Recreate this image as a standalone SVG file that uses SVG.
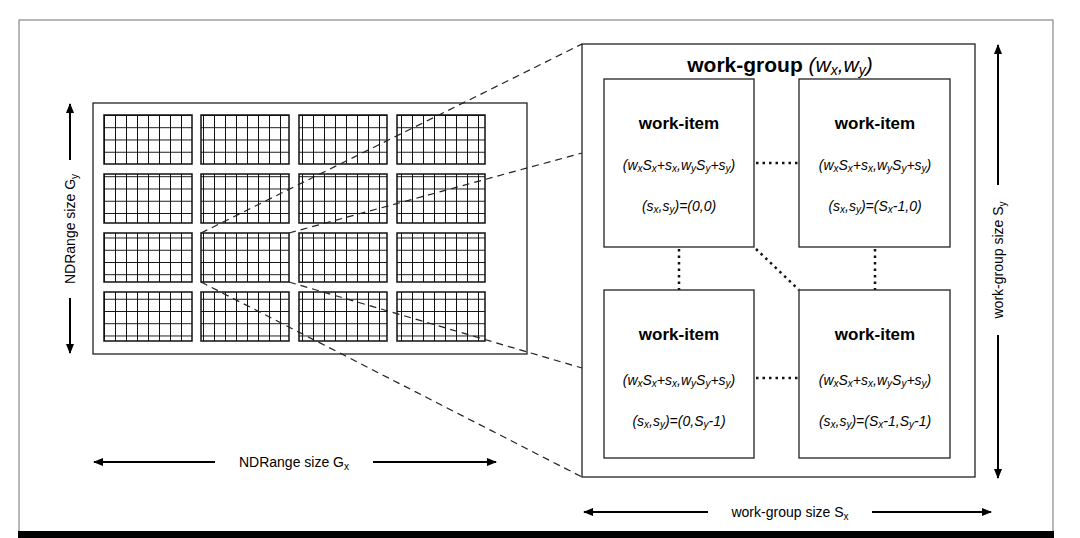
<svg xmlns="http://www.w3.org/2000/svg" width="1080" height="538" viewBox="0 0 1080 538">
<defs>
<marker id="ah" viewBox="0 0 10 10" refX="9" refY="5" markerWidth="12" markerHeight="10" markerUnits="userSpaceOnUse" orient="auto-start-reverse"><path d="M0,1 L10,5 L0,9 z" fill="#000"/></marker>
<pattern id="cells" x="104" y="115" width="11" height="12.25" patternUnits="userSpaceOnUse"><path d="M0,0 H11 M0,0 V12.25" stroke="#111" stroke-width="2" fill="none"/></pattern>
</defs>
<style>
text{font-family:"Liberation Sans",Arial,sans-serif;fill:#000}
.b{font-weight:bold;font-size:17px}
.f{font-style:italic;font-size:14px}
.box{fill:#fff;stroke:#222;stroke-width:1.3}
.blk{fill:url(#cells);stroke:#111;stroke-width:1.5}
.dash{stroke:#222;stroke-width:1.2;stroke-dasharray:7,5;fill:none}
.dot{stroke:#111;stroke-width:2.5;stroke-dasharray:2.5,4;fill:none}
.arr{stroke:#000;stroke-width:2;marker-start:url(#ah);marker-end:url(#ah)}
.lbl{font-size:14px}
</style>
<rect width="1080" height="538" fill="#fff"/>
<rect x="19" y="20" width="1034" height="515" fill="#fff" stroke="#888" stroke-width="1.2"/>
<rect x="18" y="531" width="1036" height="7" fill="#000"/>
<g id="ndrange">
<rect class="box" x="93" y="103" width="434" height="251"/>
<g id="blocks">
<rect class="blk" x="104" y="115" width="88" height="49"/><rect class="blk" x="201" y="115" width="88" height="49"/><rect class="blk" x="299" y="115" width="88" height="49"/><rect class="blk" x="397" y="115" width="88" height="49"/>
<rect class="blk" x="104" y="174" width="88" height="49"/><rect class="blk" x="201" y="174" width="88" height="49"/><rect class="blk" x="299" y="174" width="88" height="49"/><rect class="blk" x="397" y="174" width="88" height="49"/>
<rect class="blk" x="104" y="233" width="88" height="49"/><rect class="blk" x="201" y="233" width="88" height="49"/><rect class="blk" x="299" y="233" width="88" height="49"/><rect class="blk" x="397" y="233" width="88" height="49"/>
<rect class="blk" x="104" y="292" width="88" height="49"/><rect class="blk" x="201" y="292" width="88" height="49"/><rect class="blk" x="299" y="292" width="88" height="49"/><rect class="blk" x="397" y="292" width="88" height="49"/>
</g>
</g>
<g id="workgroup">
<rect class="box" x="582" y="44" width="393" height="433"/>
<text x="780" y="72" text-anchor="middle" font-size="21"><tspan font-weight="bold">work-group</tspan> <tspan font-style="italic">(w<tspan font-size="14" dy="3">x</tspan><tspan dy="-3">,w</tspan><tspan font-size="14" dy="3">y</tspan><tspan dy="-3">)</tspan></tspan></text>
</g>
<g id="connectors">
<path class="dash" d="M201,233 L582,44 M289,233 L582,153 M289,282 L582,368 M201,282 L582,477"/>
<path class="dot" d="M756,163 H799 M756,378 H799 M679,249 V290 M875,249 V290 M756,249 L799,290"/>
<line class="arr" x1="70" y1="104" x2="70" y2="353"/>
<line class="arr" x1="94" y1="462" x2="496" y2="462"/>
<line class="arr" x1="998" y1="45" x2="998" y2="478"/>
<line class="arr" x1="584" y1="512" x2="991" y2="512"/>
</g>
<g id="labels">
<rect x="55" y="160" width="30" height="138" fill="#fff"/>
<text class="lbl" transform="translate(75,229) rotate(-90)" text-anchor="middle">NDRange size G<tspan font-size="10" dy="3">y</tspan></text>
<rect x="215" y="452" width="158" height="20" fill="#fff"/>
<text class="lbl" x="294" y="467" text-anchor="middle">NDRange size G<tspan font-size="10" dy="3">x</tspan></text>
<rect x="988" y="185" width="20" height="150" fill="#fff"/>
<text class="lbl" transform="translate(1003,260) rotate(-90)" text-anchor="middle">work-group size S<tspan font-size="10" dy="3">y</tspan></text>
<rect x="708" y="502" width="164" height="20" fill="#fff"/>
<text class="lbl" x="790" y="517" text-anchor="middle">work-group size S<tspan font-size="10" dy="3">x</tspan></text>
</g>
<g id="item00">
<rect class="box" x="604" y="79" width="150" height="168"/>
<text class="b" x="679" y="129" text-anchor="middle">work-item</text>
<text class="f" x="679" y="170" text-anchor="middle">(w<tspan font-size="10" dy="2">x</tspan><tspan dy="-2">S</tspan><tspan font-size="10" dy="2">x</tspan><tspan dy="-2">+s</tspan><tspan font-size="10" dy="2">x</tspan><tspan dy="-2">,w</tspan><tspan font-size="10" dy="2">y</tspan><tspan dy="-2">S</tspan><tspan font-size="10" dy="2">y</tspan><tspan dy="-2">+s</tspan><tspan font-size="10" dy="2">y</tspan><tspan dy="-2">)</tspan></text>
<text class="f" x="679" y="211" text-anchor="middle">(s<tspan font-size="10" dy="2">x</tspan><tspan dy="-2">,s</tspan><tspan font-size="10" dy="2">y</tspan><tspan dy="-2">)=(0,0)</tspan></text>
</g>
<g id="item10">
<rect class="box" x="799" y="79" width="151" height="168"/>
<text class="b" x="875" y="129" text-anchor="middle">work-item</text>
<text class="f" x="875" y="170" text-anchor="middle">(w<tspan font-size="10" dy="2">x</tspan><tspan dy="-2">S</tspan><tspan font-size="10" dy="2">x</tspan><tspan dy="-2">+s</tspan><tspan font-size="10" dy="2">x</tspan><tspan dy="-2">,w</tspan><tspan font-size="10" dy="2">y</tspan><tspan dy="-2">S</tspan><tspan font-size="10" dy="2">y</tspan><tspan dy="-2">+s</tspan><tspan font-size="10" dy="2">y</tspan><tspan dy="-2">)</tspan></text>
<text class="f" x="875" y="211" text-anchor="middle">(s<tspan font-size="10" dy="2">x</tspan><tspan dy="-2">,s</tspan><tspan font-size="10" dy="2">y</tspan><tspan dy="-2">)=(S</tspan><tspan font-size="10" dy="2">x</tspan><tspan dy="-2">-1,0)</tspan></text>
</g>
<g id="item01">
<rect class="box" x="604" y="290" width="150" height="168"/>
<text class="b" x="679" y="340" text-anchor="middle">work-item</text>
<text class="f" x="679" y="385" text-anchor="middle">(w<tspan font-size="10" dy="2">x</tspan><tspan dy="-2">S</tspan><tspan font-size="10" dy="2">x</tspan><tspan dy="-2">+s</tspan><tspan font-size="10" dy="2">x</tspan><tspan dy="-2">,w</tspan><tspan font-size="10" dy="2">y</tspan><tspan dy="-2">S</tspan><tspan font-size="10" dy="2">y</tspan><tspan dy="-2">+s</tspan><tspan font-size="10" dy="2">y</tspan><tspan dy="-2">)</tspan></text>
<text class="f" x="679" y="426" text-anchor="middle">(s<tspan font-size="10" dy="2">x</tspan><tspan dy="-2">,s</tspan><tspan font-size="10" dy="2">y</tspan><tspan dy="-2">)=(0,S</tspan><tspan font-size="10" dy="2">y</tspan><tspan dy="-2">-1)</tspan></text>
</g>
<g id="item11">
<rect class="box" x="799" y="290" width="151" height="168"/>
<text class="b" x="875" y="340" text-anchor="middle">work-item</text>
<text class="f" x="875" y="385" text-anchor="middle">(w<tspan font-size="10" dy="2">x</tspan><tspan dy="-2">S</tspan><tspan font-size="10" dy="2">x</tspan><tspan dy="-2">+s</tspan><tspan font-size="10" dy="2">x</tspan><tspan dy="-2">,w</tspan><tspan font-size="10" dy="2">y</tspan><tspan dy="-2">S</tspan><tspan font-size="10" dy="2">y</tspan><tspan dy="-2">+s</tspan><tspan font-size="10" dy="2">y</tspan><tspan dy="-2">)</tspan></text>
<text class="f" x="875" y="426" text-anchor="middle">(s<tspan font-size="10" dy="2">x</tspan><tspan dy="-2">,s</tspan><tspan font-size="10" dy="2">y</tspan><tspan dy="-2">)=(S</tspan><tspan font-size="10" dy="2">x</tspan><tspan dy="-2">-1,S</tspan><tspan font-size="10" dy="2">y</tspan><tspan dy="-2">-1)</tspan></text>
</g>
</svg>
